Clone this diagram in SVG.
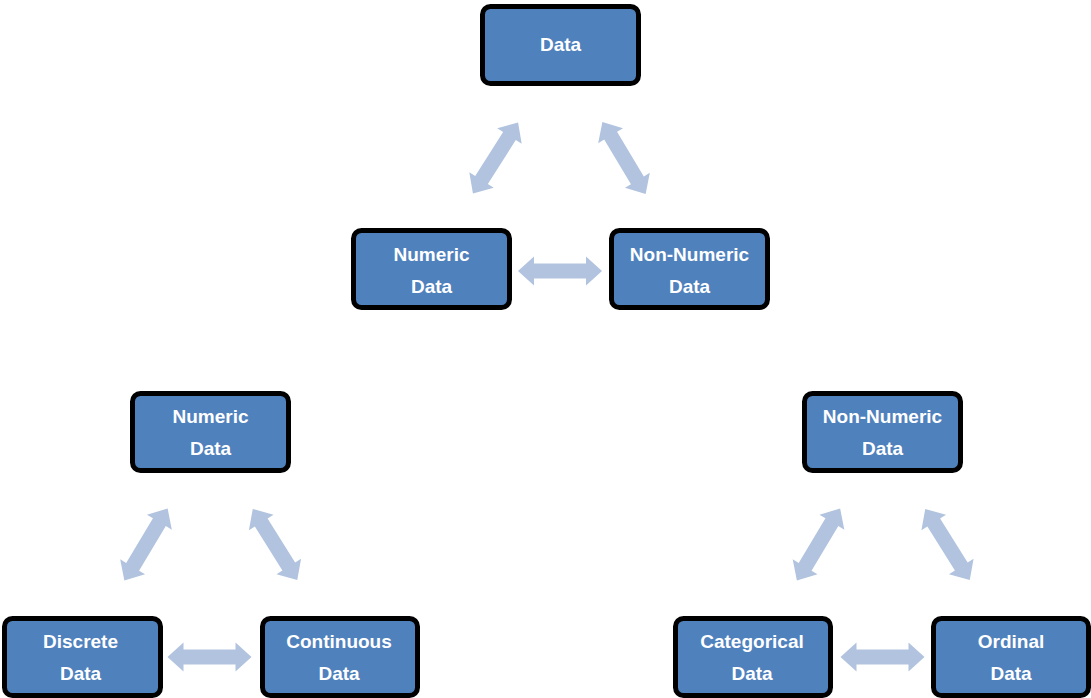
<svg xmlns="http://www.w3.org/2000/svg" xmlns:xlink="http://www.w3.org/1999/xlink" width="1091" height="698" viewBox="0 0 1091 698">
<style>
.box{fill:#4f81bd;stroke:#000;stroke-width:5}
.t{font-family:"Liberation Sans",Arial,sans-serif;font-weight:bold;font-size:19px;fill:#fff;text-anchor:middle}
.arr{fill:#b1c3de}
</style>
<defs>
<polygon id="arr" class="arr" points="-42,0 -26,-14.5 -26,-7.5 26,-7.5 26,-14.5 42,0 26,14.5 26,7.5 -26,7.5 -26,14.5"/>
</defs>
<rect width="1091" height="698" fill="#fff"/>
<g id="connectors">
<use xlink:href="#arr" href="#arr" transform="translate(495.5,158) rotate(-57.5)"/>
<use xlink:href="#arr" href="#arr" transform="translate(624,158) rotate(59)"/>
<use xlink:href="#arr" href="#arr" transform="translate(560,271)"/>
<use xlink:href="#arr" href="#arr" transform="translate(146,544.5) rotate(-59)"/>
<use xlink:href="#arr" href="#arr" transform="translate(275,544.5) rotate(58)"/>
<use xlink:href="#arr" href="#arr" transform="translate(209.5,657)"/>
<use xlink:href="#arr" href="#arr" transform="translate(818.5,544.5) rotate(-59)"/>
<use xlink:href="#arr" href="#arr" transform="translate(947.5,544.5) rotate(58)"/>
<use xlink:href="#arr" href="#arr" transform="translate(882.5,657)"/>
</g>
<g id="n-data"><rect class="box" x="482.5" y="6.5" width="156" height="77" rx="8"/><text class="t" x="560.5" y="51">Data</text></g>
<g id="n-numeric-top"><rect class="box" x="353.5" y="230.5" width="156" height="77" rx="8"/><text class="t" x="431.5" y="261">Numeric</text><text class="t" x="431.5" y="293">Data</text></g>
<g id="n-nonnumeric-top"><rect class="box" x="611.5" y="230.5" width="156" height="77" rx="8"/><text class="t" x="689.5" y="261">Non-Numeric</text><text class="t" x="689.5" y="293">Data</text></g>
<g id="n-numeric"><rect class="box" x="132.5" y="393.5" width="156" height="77" rx="8"/><text class="t" x="210.5" y="423">Numeric</text><text class="t" x="210.5" y="455">Data</text></g>
<g id="n-nonnumeric"><rect class="box" x="804.5" y="393.5" width="156" height="77" rx="8"/><text class="t" x="882.5" y="423">Non-Numeric</text><text class="t" x="882.5" y="455">Data</text></g>
<g id="n-discrete"><rect class="box" x="4.5" y="618.5" width="156" height="77" rx="8"/><text class="t" x="80.5" y="648">Discrete</text><text class="t" x="80.5" y="680">Data</text></g>
<g id="n-continuous"><rect class="box" x="262.5" y="618.5" width="155" height="77" rx="8"/><text class="t" x="339" y="648">Continuous</text><text class="t" x="339" y="680">Data</text></g>
<g id="n-categorical"><rect class="box" x="675.5" y="618.5" width="155" height="77" rx="8"/><text class="t" x="752" y="648">Categorical</text><text class="t" x="752" y="680">Data</text></g>
<g id="n-ordinal"><rect class="box" x="933.5" y="618.5" width="155" height="77" rx="8"/><text class="t" x="1011" y="648">Ordinal</text><text class="t" x="1011" y="680">Data</text></g>
</svg>
